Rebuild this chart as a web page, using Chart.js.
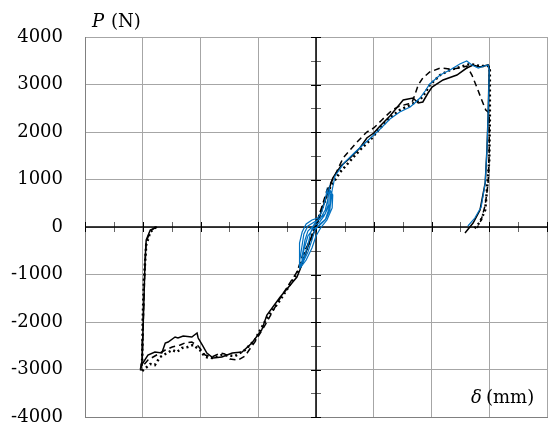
<!DOCTYPE html>
<html>
<head>
<meta charset="utf-8">
<script src="https://cdn.jsdelivr.net/npm/chart.js@4"></script>
<style>
  body { margin: 0; background: #fff; }
  canvas { display: block; }
</style>
</head>
<body>
<canvas id="grafica" width="559" height="430"></canvas>
<script>
// ejes
const xRange = [-40, 40];
const yTicks = [-4000, -3000, -2000, -1000, 0, 1000, 2000, 3000, 4000];

// curva continua (negra)
const solidX = [-27.5, -28.7, -29.4, -29.6, -29.8, -30.0, -30.1, -30.3, -29.1, -27.9, -26.7, -26.1, -25.6, -24.4, -23.9, -23.0, -21.5, -20.6, -20.4, -19.7, -18.9, -17.8, -16.3, -14.5, -12.8, -11.1, -9.4, -8.5, -6.2, -3.3, -2.8, -1.9, -1.0, 0.0, 1.0, 2.1, 2.9, 4.3, 5.9, 7.6, 8.8, 10.0, 11.1, 12.8, 15.1, 16.8, 17.7, 18.5, 19.4, 20.1, 22.0, 24.4, 26.1, 27.2, 28.4, 29.8, 30.0, 29.8, 29.6, 29.3, 28.4, 27.2, 25.8];
const solidY = [0, -63, -274, -695, -1537, -2379, -2800, -2926, -2695, -2632, -2653, -2442, -2421, -2316, -2337, -2295, -2316, -2232, -2337, -2484, -2653, -2758, -2737, -2653, -2632, -2442, -2168, -1853, -1474, -1053, -905, -589, -274, -21, 358, 737, 1032, 1284, 1453, 1663, 1874, 1979, 2126, 2337, 2674, 2716, 2611, 2632, 2821, 2947, 3095, 3200, 3347, 3411, 3368, 3411, 3368, 2316, 1621, 926, 358, 84, -126];

// curva discontinua
const dashX = [-27.7, -28.7, -29.4, -29.6, -29.8, -30.0, -30.1, -30.3, -29.1, -27.9, -26.1, -24.9, -23.5, -22.7, -21.5, -20.4, -19.2, -18.0, -16.6, -15.8, -14.9, -13.5, -12.3, -10.6, -8.8, -6.2, -3.3, -2.3, -1.0, 0.0, 1.0, 1.9, 3.3, 4.7, 7.1, 8.8, 10.0, 11.4, 13.2, 14.5, 15.9, 16.6, 17.1, 17.7, 18.5, 19.7, 21.5, 23.2, 24.9, 26.1, 27.0, 27.9, 28.7, 29.4, 30.0, 30.0, 29.8, 29.3, 28.6, 27.9];
const dashY = [0, -84, -316, -800, -1537, -2379, -2842, -2968, -2800, -2716, -2590, -2526, -2484, -2442, -2421, -2505, -2695, -2737, -2653, -2674, -2779, -2800, -2716, -2421, -2063, -1495, -947, -589, -274, 42, 421, 779, 1095, 1453, 1789, 2000, 2084, 2253, 2463, 2547, 2589, 2611, 2779, 2989, 3137, 3263, 3347, 3326, 3347, 3389, 3200, 2926, 2674, 2463, 2400, 1621, 926, 463, 147, -21];

// curva punteada
const dotX = [-27.7, -28.7, -29.4, -29.8, -30.0, -30.1, -30.3, -28.7, -27.9, -27.0, -25.8, -24.9, -24.1, -23.2, -22.2, -21.3, -20.1, -19.2, -18.0, -16.3, -14.0, -12.3, -10.6, -8.5, -6.2, -4.0, -2.8, -1.7, -0.7, 0.3, 1.4, 2.4, 4.2, 5.9, 7.6, 9.4, 11.1, 12.8, 14.5, 16.3, 18.0, 18.9, 19.7, 21.5, 23.2, 24.9, 26.7, 28.4, 29.8, 30.1, 30.1, 30.0, 29.6, 29.3, 28.4, 27.2];
const dotY = [0, -105, -379, -1116, -1958, -2800, -3053, -2884, -2905, -2737, -2653, -2590, -2632, -2547, -2526, -2484, -2590, -2737, -2758, -2695, -2716, -2590, -2379, -1916, -1537, -1116, -863, -484, -189, 147, 505, 821, 1158, 1389, 1621, 1832, 2084, 2295, 2463, 2568, 2674, 2821, 2989, 3200, 3305, 3368, 3432, 3389, 3389, 3305, 2253, 1411, 779, 358, 105, -63];

// curva azul (ciclos)
const blueX = [-2.9, -2.9, -2.8, -2.4, -1.7, -0.7, 0.3, 1.0, 1.6, 1.9, 2.1, 2.1, 1.6, 0.5, -0.3, -0.9, -1.4, -2.1, -2.8,
  -2.8, -2.4, -2.1, -1.4, -0.3, 0.7, 1.6, 2.1, 2.3, 2.6, 2.4, 1.7, 0.7, -0.2, -0.7, -1.4, -2.3,
  -2.4, -1.9, -1.4, -0.5, 0.5, 1.4, 2.3, 2.4, 2.9, 2.8, 1.9, 0.9, 0.0, -0.7, -1.7, -2.6,
  -2.1, -1.4, -0.5, 0.5, 1.6, 2.4, 2.8,
  3.3, 5.0, 6.8, 8.5, 10.0, 11.1, 12.8, 14.5, 16.3, 17.1, 18.0, 18.9, 19.7, 21.5, 23.2, 24.9, 26.1, 27.0, 28.1, 29.1, 29.8, 30.0, 29.8, 29.6, 29.3, 28.6, 27.5, 26.3];
const blueY = [-863, -589, -337, -105, 63, 147, 189, 316, 568, 779, 674, 463, 274, 168, 63, -105, -379, -653, -842,
  -695, -379, -147, 21, 105, 168, 358, 611, 821, 611, 358, 168, 63, -63, -274, -526, -758,
  -611, -274, -84, 21, 84, 232, 463, 779, 674, 400, 147, 0, -189, -442, -695, -842,
  -484, -189, -42, 21, 147, 442, 779,
  1074, 1368, 1579, 1768, 1937, 2063, 2274, 2421, 2526, 2611, 2716, 2863, 3011, 3200, 3305, 3432, 3495, 3411, 3347, 3389, 3411, 3305, 2316, 1621, 926, 421, 189, 21];

const puntos = (xs, ys) => xs.map((x, i) => ({ x: x, y: ys[i] }));

const serie = (xs, ys, color, extra) => Object.assign({
  data: puntos(xs, ys),
  showLine: true,
  borderColor: color,
  borderWidth: 1.5,
  pointRadius: 0,
  tension: 0,
  fill: false
}, extra);

// ejes cruzados con marcas, y rótulos P (N) y δ (mm)
const ejes = {
  id: 'ejes',
  beforeDatasetsDraw(chart) {
    const { ctx, chartArea: a, scales: { x, y } } = chart;
    const x0 = x.getPixelForValue(0), y0 = y.getPixelForValue(0);
    ctx.save();
    ctx.lineWidth = 1;
    for (let v = xRange[0]; v <= xRange[1]; v += 5) {
      const px = Math.round(x.getPixelForValue(v)) + 0.5;
      ctx.strokeStyle = v % 10 === 0 ? '#000' : '#666';
      ctx.beginPath(); ctx.moveTo(px, y0 - 5); ctx.lineTo(px, y0 + 5); ctx.stroke();
    }
    for (let v = yTicks[0]; v <= yTicks[yTicks.length - 1]; v += 500) {
      const py = Math.round(y.getPixelForValue(v)) + 0.5;
      ctx.strokeStyle = v % 1000 === 0 ? '#000' : '#666';
      ctx.beginPath(); ctx.moveTo(x0 - 5, py); ctx.lineTo(x0 + 5, py); ctx.stroke();
    }
    ctx.strokeStyle = '#000';
    ctx.lineWidth = 1.5;
    ctx.beginPath();
    ctx.moveTo(a.left, y0); ctx.lineTo(a.right, y0);
    ctx.moveTo(x0, a.top); ctx.lineTo(x0, a.bottom);
    ctx.stroke();
    ctx.restore();
  },
  afterDraw(chart) {
    const ctx = chart.ctx;
    ctx.save();
    ctx.fillStyle = '#000';
    ctx.textBaseline = 'alphabetic';
    ctx.font = 'italic 18px "DejaVu Serif"';
    ctx.fillText('P', 92, 27);
    ctx.fillText('δ', 471, 403);
    ctx.font = '18px "DejaVu Serif"';
    ctx.fillText('(N)', 111, 27);
    ctx.fillText('(mm)', 486, 403);
    ctx.restore();
  }
};

new Chart(document.getElementById('grafica'), {
  type: 'scatter',
  data: {
    datasets: [
      serie(solidX, solidY, '#000', { order: 1 }),
      serie(dashX, dashY, '#000', { order: 1, borderDash: [6, 4] }),
      serie(dotX, dotY, '#000', { order: 1, borderWidth: 2.5, borderDash: [2, 3] }),
      serie(blueX, blueY, '#0070C0', { order: 0, borderWidth: 1.2 })
    ]
  },
  options: {
    responsive: false,
    animation: false,
    layout: { padding: { top: 37, right: 12, bottom: 13, left: 0 } },
    scales: {
      x: {
        type: 'linear',
        min: xRange[0],
        max: xRange[1],
        ticks: { display: false, stepSize: 10 },
        grid: { color: '#a6a6a6', drawTicks: false },
        border: { color: '#808080' },
        afterFit: s => { s.height = 0; s.paddingLeft = 0; s.paddingRight = 0; }
      },
      y: {
        min: yTicks[0],
        max: yTicks[yTicks.length - 1],
        afterBuildTicks: s => { s.ticks = yTicks.map(v => ({ value: v })); },
        ticks: {
          color: '#000',
          padding: 22,
          font: { family: 'DejaVu Serif', size: 18 },
          callback: v => String(v)
        },
        grid: { color: '#a6a6a6', drawTicks: false },
        border: { color: '#808080' },
        afterFit: s => { s.width = 85; s.paddingTop = 0; s.paddingBottom = 0; }
      }
    },
    plugins: {
      legend: { display: false },
      tooltip: { enabled: false }
    }
  },
  plugins: [ejes]
});
</script>
</body>
</html>
